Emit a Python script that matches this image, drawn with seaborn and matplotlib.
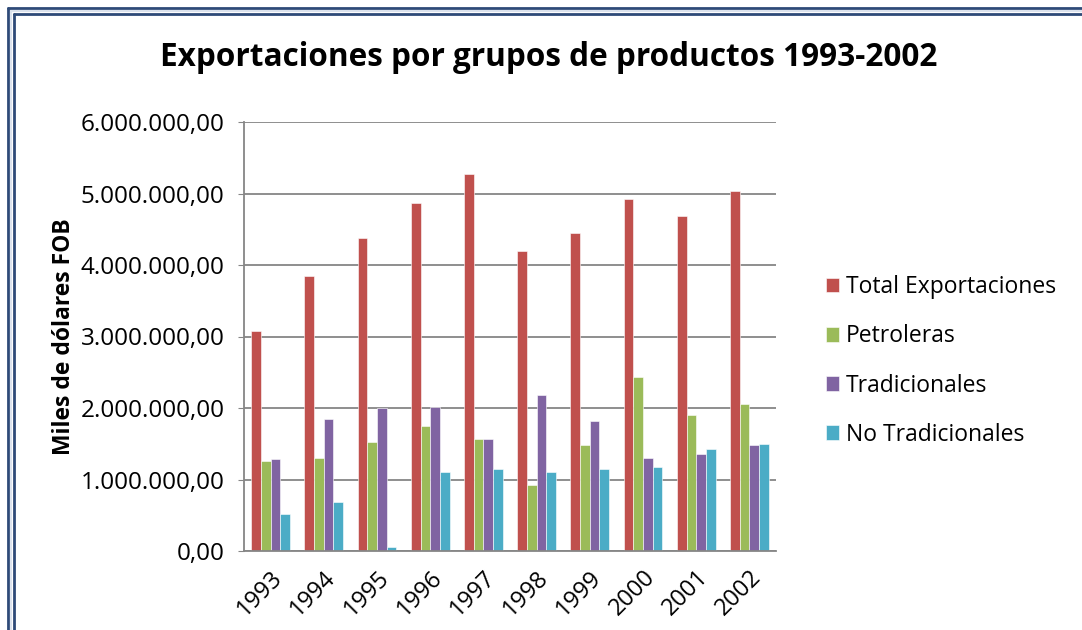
import matplotlib
matplotlib.use("Agg")
import matplotlib.pyplot as plt
import matplotlib.ticker as mticker
from matplotlib.lines import Line2D
import pandas as pd
import seaborn as sns

years = ["1993", "1994", "1995", "1996", "1997", "1998", "1999", "2000", "2001", "2002"]
total = [3070000, 3840000, 4380000, 4870000, 5270000, 4200000, 4450000, 4930000, 4680000, 5030000]
petroleras = [1260000, 1300000, 1530000, 1750000, 1560000, 920000, 1480000, 2440000, 1900000, 2060000]
tradicionales = [1290000, 1850000, 2000000, 2020000, 1570000, 2180000, 1820000, 1300000, 1360000, 1480000]
no_tradicionales = [520000, 690000, 56000, 1110000, 1140000, 1100000, 1150000, 1180000, 1420000, 1500000]

series = ["Total Exportaciones", "Petroleras", "Tradicionales", "No Tradicionales"]
colors = ["#C0504D", "#9BBB59", "#8064A2", "#4BACC6"]

df = pd.DataFrame({"year": years, series[0]: total, series[1]: petroleras,
                   series[2]: tradicionales, series[3]: no_tradicionales})
long = df.melt(id_vars="year", var_name="grupo", value_name="valor")

sns.set_style("white")
plt.rcParams["font.family"] = ["Open Sans", "DejaVu Sans"]
plt.rcParams["text.color"] = "black"
plt.rcParams["axes.labelcolor"] = "black"
plt.rcParams["xtick.color"] = "black"
plt.rcParams["ytick.color"] = "black"

fig = plt.figure(figsize=(10.82, 6.3), dpi=100)
ax = fig.add_axes([244 / 1082, 1 - 551 / 630, 532 / 1082, 429 / 630])

sns.barplot(data=long, x="year", y="valor", hue="grupo", hue_order=series,
            palette=colors, width=0.727, saturation=1, ax=ax, legend=True,
            edgecolor="white", linewidth=0.4)

ax.set_ylim(0, 6000000)
ax.set_xlim(-0.5, len(years) - 0.5)
ax.yaxis.set_major_locator(mticker.MultipleLocator(1000000))


def es_fmt(v, pos):
    s = f"{v:,.2f}"
    return s.replace(",", "X").replace(".", ",").replace("X", ".")


ax.yaxis.set_major_formatter(mticker.FuncFormatter(es_fmt))
ax.yaxis.grid(True, color="#868686", linewidth=1.3)
ax.set_axisbelow(True)
for side in ["top", "right"]:
    ax.spines[side].set_visible(False)
for side in ["left", "bottom"]:
    ax.spines[side].set_color("#868686")
    ax.spines[side].set_linewidth(1.3)

ax.tick_params(axis="y", left=True, length=4, color="#868686", labelcolor="black",
               labelsize=17.5, pad=10)
ax.tick_params(axis="x", bottom=False, labelcolor="black", labelsize=17, pad=7)
plt.setp(ax.get_xticklabels(), rotation=45, ha="right", rotation_mode="anchor")
ax.set_xlabel("")
ax.set_ylabel("Miles de dólares FOB", fontsize=16.5, fontweight="bold", labelpad=3)

handles, labels = ax.get_legend_handles_labels()
ax.get_legend().remove()
fig.legend(handles, labels, loc="center left", bbox_to_anchor=(805 / 1082, 1 - 361 / 630),
           frameon=False, fontsize=16.5, handlelength=0.6, handleheight=0.6,
           handletextpad=0.3, labelspacing=1.1)

fig.text(549 / 1082, 1 - 57 / 630, "Exportaciones por grupos de productos 1993-2002",
         ha="center", va="center", fontsize=22.7, fontweight="bold")

# double frame on left and top edges
for off, col, lw in [(8, "#2E4A78", 2.0), (11, "#DCE3EE", 1.5), (14, "#2E4A78", 2.0)]:
    fig.add_artist(Line2D([off / 1082, off / 1082], [0, 1 - off / 630],
                          transform=fig.transFigure, color=col, linewidth=lw))
    fig.add_artist(Line2D([off / 1082, 1], [1 - off / 630, 1 - off / 630],
                          transform=fig.transFigure, color=col, linewidth=lw))

fig.savefig("out.png", dpi=100)
